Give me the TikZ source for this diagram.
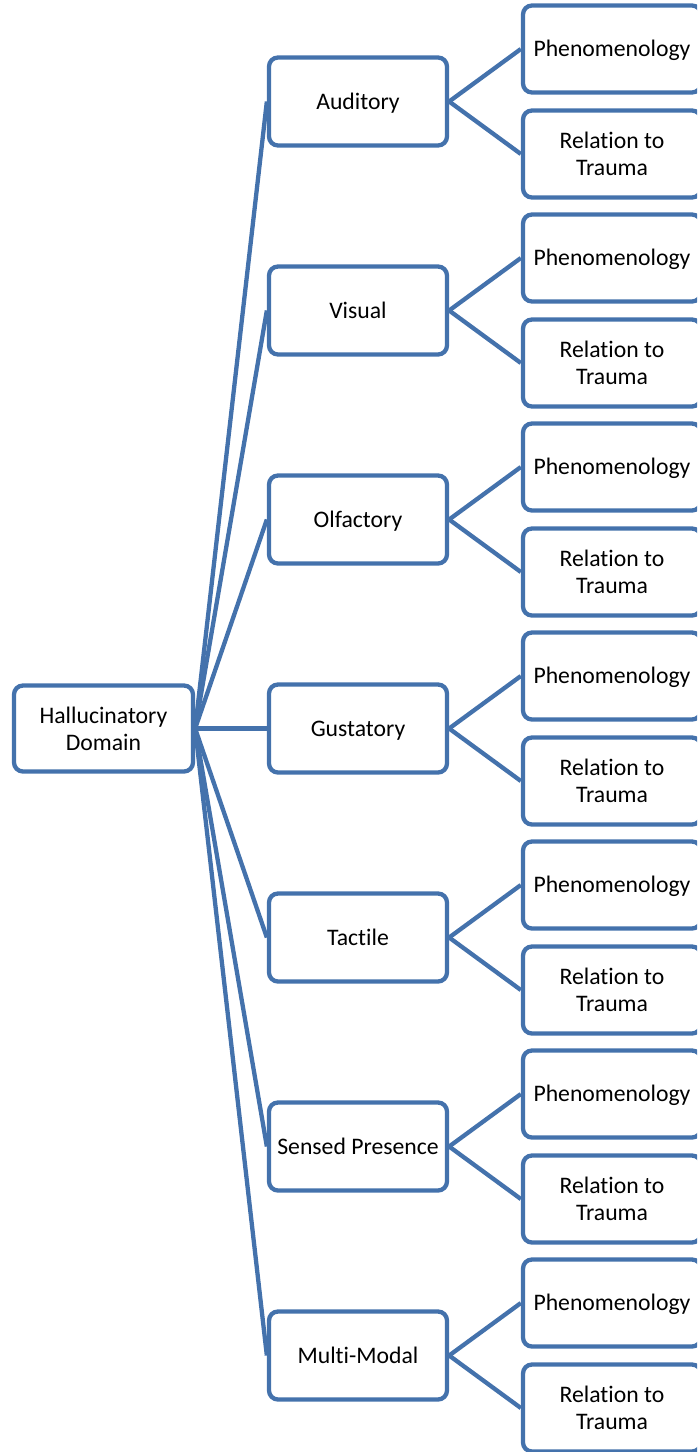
\documentclass[tikz,border=0pt]{standalone}
\usepackage{fontspec}
\setmainfont[Ligatures={NoCommon,NoRequired,NoContextual}, RawFeature={-liga;-clig;-calt;-dlig}]{Carlito}
\usetikzlibrary{backgrounds}
\definecolor{sablue}{RGB}{68,114,172}
\begin{document}
\begin{tikzpicture}[x=1pt,y=-1pt,
  box/.style={draw=sablue, line width=4.3pt, rounded corners=9pt, fill=white,
    minimum width=178pt, minimum height=87pt, align=center, inner sep=0pt,
    font=\fontsize{23.7}{27}\selectfont},
  one/.style={text height=19.5pt, text depth=4.5pt},
  link/.style={draw=sablue, line width=4.3pt}]
\useasboundingbox (0,0) rectangle (697,1452);
\clip (0,0) rectangle (697,1452);
\node[box, minimum width=179pt, minimum height=86pt] (root) at (103.5,728.5) {Hallucinatory\\Domain};
\foreach \i/\name in {0/Auditory,1/Visual,2/Olfactory,3/Gustatory,4/Tactile,5/Sensed Presence,6/Multi-Modal}{
  \pgfmathsetmacro{\cy}{101.5+209*\i}
  \node[box, one, minimum height=88pt] (m\i) at (358,\cy) {\name};
  \node[box, one] (p\i) at (612,\cy-52.5) {Phenomenology};
  \node[box] (r\i) at (612,\cy+52.5) {Relation to\\Trauma};
  \begin{pgfonlayer}{background}
    \draw[link] (root.east) -- (m\i.west);
    \draw[link] (m\i.east) -- (p\i.west);
    \draw[link] (m\i.east) -- (r\i.west);
  \end{pgfonlayer}
}
\end{tikzpicture}
\end{document}
